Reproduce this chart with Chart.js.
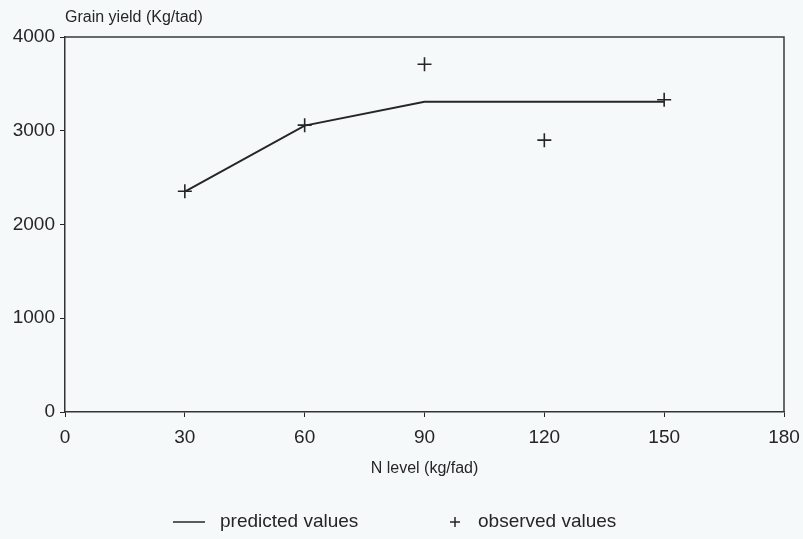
<!DOCTYPE html>
<html>
<head>
<meta charset="utf-8">
<script src="https://cdn.jsdelivr.net/npm/chart.js@4.4.1/dist/chart.umd.min.js"></script>
<style>
  html, body { margin: 0; padding: 0; background: #f6f9fa; }
  #wrap { position: relative; width: 803px; height: 539px; }
</style>
</head>
<body>
<div id="wrap"><canvas id="yieldChart"></canvas></div>
<script>
// N level (kg/fad) vs grain yield (kg/fad)
const nLevels = [30, 60, 90, 120, 150];
const predictedYield = [2350, 3055, 3310, 3310, 3310];
const observedYield = [2355, 3060, 3710, 2900, 3330];
const xTicks = [0, 30, 60, 90, 120, 150, 180];
const yTicks = [0, 1000, 2000, 3000, 4000];

const INK = "#262626";
const FONT = "'Liberation Sans', Arial, sans-serif";

// box around the plot + y axis caption + legend under the axis title
const paperPlugin = {
  id: "paper",
  beforeDatasetsDraw(chart){
    const { ctx, chartArea: a } = chart;
    ctx.save();
    ctx.strokeStyle = "#3a3a3a";
    ctx.lineWidth = 1.5;
    ctx.beginPath();
    ctx.moveTo(a.left, a.top);
    ctx.lineTo(a.right, a.top);
    ctx.lineTo(a.right, a.bottom);
    ctx.stroke();
    ctx.restore();
  },
  afterDraw(chart){
    const { ctx, chartArea: a } = chart;
    ctx.save();
    ctx.fillStyle = INK;
    ctx.font = "16px " + FONT;
    ctx.textBaseline = "middle";
    ctx.textAlign = "left";
    ctx.fillText("Grain yield (Kg/tad)", a.left, 18);

    // legend
    const ds = chart.data.datasets;
    const y = 522;
    ctx.font = "19px " + FONT;
    ctx.strokeStyle = INK;
    ctx.lineWidth = 1.5;
    ctx.beginPath();
    ctx.moveTo(173, y); ctx.lineTo(205, y);
    ctx.stroke();
    ctx.fillText(ds[0].label, 220, y);
    ctx.beginPath();
    ctx.moveTo(450, y); ctx.lineTo(460, y);
    ctx.moveTo(455, y - 5); ctx.lineTo(455, y + 5);
    ctx.stroke();
    ctx.fillText(ds[1].label, 478, y);
    ctx.restore();
  }
};

new Chart(document.getElementById("yieldChart"), {
  type: "line",
  data: {
    datasets: [
      {
        label: "predicted values",
        data: nLevels.map((n, i) => ({ x: n, y: predictedYield[i] })),
        borderColor: INK,
        borderWidth: 2,
        pointRadius: 0,
        tension: 0
      },
      {
        label: "observed values",
        data: nLevels.map((n, i) => ({ x: n, y: observedYield[i] })),
        showLine: false,
        pointStyle: "cross",
        pointRadius: 7,
        pointBorderWidth: 1.6,
        pointBorderColor: INK,
        borderColor: INK
      }
    ]
  },
  options: {
    responsive: true,
    maintainAspectRatio: false,
    animation: false,
    layout: { padding: { top: 37, right: 19, left: 0, bottom: 61 } },
    plugins: {
      legend: { display: false },
      tooltip: { enabled: false }
    },
    scales: {
      x: {
        type: "linear",
        min: 0, max: 180,
        afterBuildTicks: s => { s.ticks = xTicks.map(v => ({ value: v })); },
        afterFit: s => { s.height = 66; s.paddingLeft = 0; s.paddingRight = 0; },
        grid: { drawOnChartArea: false, tickLength: 5, color: INK },
        border: { color: "#333", width: 1.5 },
        ticks: { color: INK, padding: 9, font: { family: FONT, size: 19 }, callback: v => String(v) },
        title: {
          display: true,
          text: "N level (kg/fad)",
          color: INK,
          padding: { top: 0, bottom: 0 },
          font: { family: FONT, size: 16 }
        }
      },
      y: {
        min: 0, max: 4000,
        afterBuildTicks: s => { s.ticks = yTicks.map(v => ({ value: v })); },
        afterFit: s => { s.width = 65; },
        grid: { drawOnChartArea: false, tickLength: 5, color: INK },
        border: { color: "#333", width: 1.5 },
        ticks: { color: INK, padding: 5, font: { family: FONT, size: 19 }, callback: v => String(v) }
      }
    }
  },
  plugins: [paperPlugin]
});
</script>
</body>
</html>
